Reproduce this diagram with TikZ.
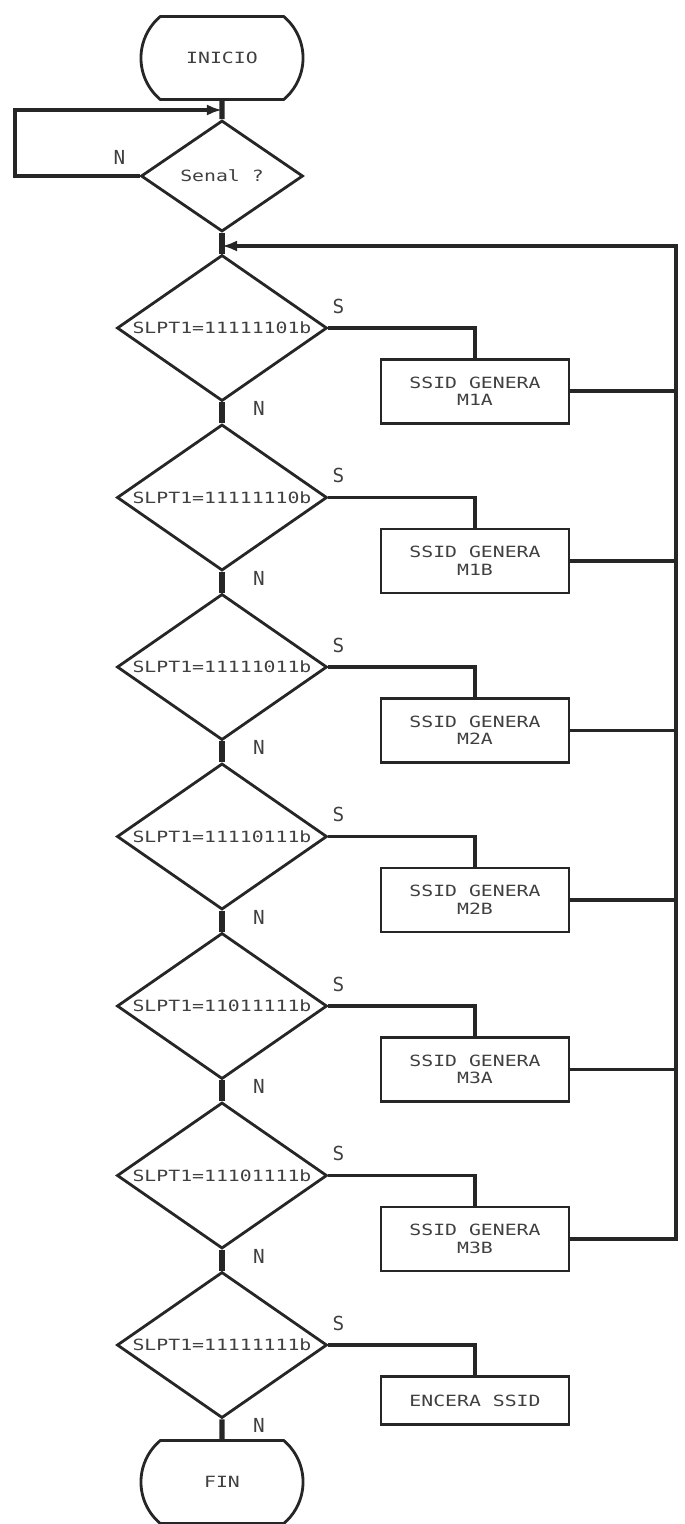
\documentclass[tikz,border=0pt]{standalone}
\usepackage{fontspec}
\newfontfamily\plotfont[FakeStretch=1.28]{DejaVu Sans Mono}
\newfontfamily\markfont{DejaVu Sans Mono}
\usetikzlibrary{arrows.meta,positioning,shapes.geometric,shapes.misc}

\begin{document}
\begin{tikzpicture}[
    x=0.01cm, y=-0.01cm,
    font=\plotfont\fontsize{4.4}{5}\selectfont,
    every node/.style={text=black!75},
    term/.style={draw=black!85, line width=0.8pt, rounded rectangle, rounded rectangle arc length=100, minimum width=1.62cm, minimum height=0.83cm, inner sep=0pt},
    cond/.style={draw=black!85, line width=0.8pt, diamond, aspect=1.44, minimum width=2.1cm, minimum height=1.46cm, inner sep=0pt},
    box/.style={draw=black!85, line width=0.8pt, minimum width=1.88cm, minimum height=0.64cm, align=center, inner sep=0pt},
    tag/.style={font=\markfont\fontsize{5.5}{6}\selectfont},
    line/.style={draw=black!85, line width=1.1pt},
    trunk/.style={draw=black!85, line width=1.5pt},
    arr/.style={draw=black!85, line width=1.1pt, -{Latex[length=1.5mm, width=1.1mm]}}
  ]
    \useasboundingbox (0,0) rectangle (684,1524);
    \node[term] (inicio) at (222,58) {INICIO};
    \node[cond, aspect=1.46, minimum width=1.62cm, minimum height=1.11cm] (senal) at (222,176) {Senal ?};
    \node[tag] (nsenal) at ([shift={(-20,-19)}]senal.west) {N};
    \foreach \i/\code in {1/11111101b, 2/11111110b, 3/11111011b, 4/11110111b, 5/11011111b, 6/11101111b, 7/11111111b}
      \node[cond] (d\i) at (222,{158.5+169.5*\i}) {SLPT1=\code};
    \foreach \i/\msg in {1/M1A, 2/M1B, 3/M2A, 4/M2B, 5/M3A, 6/M3B}
      \node[box, anchor=north] (b\i) at ([shift={(253,30)}]d\i.center) {SSID GENERA\\\msg};
    \node[box, anchor=north, minimum height=0.48cm] (b7) at ([shift={(253,30)}]d7.center) {ENCERA SSID};
    \node[term] (fin) at (222,1482) {FIN};
    \foreach \i in {1,...,7} {
      \node[tag] (s\i) at ([shift={(10,-22)}]d\i.east) {S};
      \node[tag] (n\i) at ([shift={(37,6)}]d\i.south) {N};
      \draw[line] (d\i.east) -| (b\i.north);
    }
    \coordinate (loop) at (15,110);
    \coordinate (ret) at (676,246);
    \draw[trunk] (inicio) -- (senal);
    \draw[trunk] (senal) -- (d1);
    \foreach \i/\j in {1/2, 2/3, 3/4, 4/5, 5/6, 6/7}
      \draw[trunk] (d\i) -- (d\j);
    \draw[trunk] (d7) -- (fin);
    \draw[arr] (senal.west) -| (loop) -- (inicio.south |- loop);
    \draw[arr] (b6.east) -| (ret) -- (ret -| senal.south);
    \foreach \i in {1,...,5}
      \draw[line] (b\i.east) -- (b\i.east -| ret);
  \end{tikzpicture}
\end{document}
